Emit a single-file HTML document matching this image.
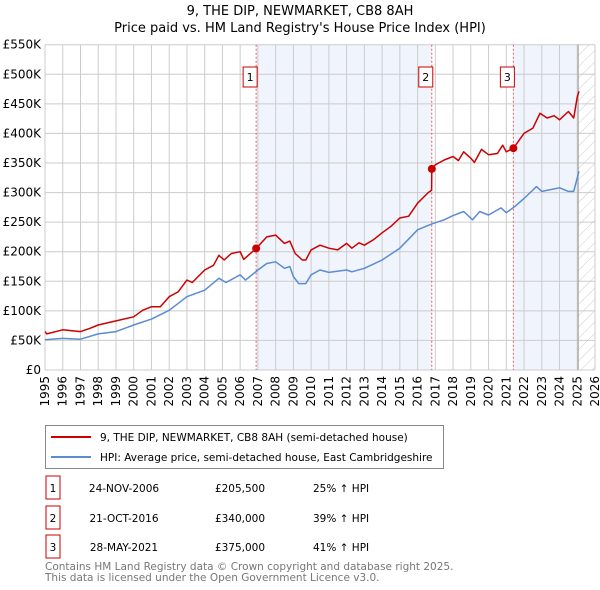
<!DOCTYPE html>
<html><head><meta charset="utf-8"><style>
body{margin:0;background:#fff;font-family:"Liberation Sans","DejaVu Sans",sans-serif}
#wrap{position:relative;width:600px;height:590px;overflow:hidden}
svg text{font-family:"DejaVu Sans","Liberation Sans",sans-serif}
</style></head><body>
<div id="wrap">
<svg id="chart" width="600" height="590"></svg>
</div>
<script>
const years=[1995,1996,1997,1998,1999,2000,2001,2002,2003,2004,2005,2006,2007,2008,2009,2010,2011,2012,2013,2014,2015,2016,2017,2018,2019,2020,2021,2022,2023,2024,2025,2026];
const yTicks=[0,50,100,150,200,250,300,350,400,450,500,550];
const hpiT=[1995,1996,1997,1998,1999,2000,2001,2002,2003,2004,2004.8,2005.2,2006,2006.3,2007,2007.5,2008,2008.5,2008.8,2009,2009.3,2009.7,2010,2010.5,2011,2012,2012.3,2013,2014,2015,2016,2016.8,2017.5,2018,2018.6,2019.1,2019.5,2020,2020.7,2021,2021.5,2022,2022.7,2023,2023.5,2024,2024.5,2024.8,2025.1];
const hpiV=[51,53.5,52,61,65,76,86,101,124,135,155,148,161,152,169,180,183,172,175,158,146,146,161,169,165,169,166,172,186,206,237,247,254,261,268,254,268,262,274,266,277,290,310,302,305,308,302,302,336];
const priceT=[1995,1995.1,1996,1997,1997.5,1998,1999,2000,2000.5,2001,2001.5,2002,2002.5,2003,2003.3,2004,2004.5,2004.8,2005.1,2005.5,2006,2006.2,2006.9,2007.5,2008,2008.5,2008.8,2009.1,2009.5,2009.7,2010,2010.5,2011,2011.5,2012,2012.3,2012.7,2013,2013.5,2014,2014.5,2015,2015.5,2016,2016.6,2016.79,2016.8,2017,2017.5,2018,2018.3,2018.6,2019,2019.2,2019.6,2020,2020.5,2020.8,2021,2021.4,2022,2022.5,2022.9,2023.3,2023.7,2024,2024.5,2024.8,2025,2025.1];
const priceV=[65,61,68,65,70,76,83,90,101,107,107,124,132,152,148,169,177,194,186,197,200,187,205.5,225,228,214,218,197,186,186,203,211,206,203,214,206,215,211,220,232,243,257,260,282,300,304,340,347,355,361,354,369,358,351,373,364,366,380,369,375,400,409,434,426,430,423,437,426,462,471];
const saleLabels=["1","2","3"];
const saleT=[2006.9,2016.8,2021.4];
const saleV=[205.5,340,375];
const saleDates=["24-NOV-2006","21-OCT-2016","28-MAY-2021"];
const salePrices=["£205,500","£340,000","£375,000"];
const saleHpi=["25% ↑ HPI","39% ↑ HPI","41% ↑ HPI"];

const L=45,R=595,T=44.7,B=370;
const X=t=>L+(t-1995)/(2026-1995)*(R-L);
const Y=v=>B-v/550*(B-T);
const NS="http://www.w3.org/2000/svg";
const svg=document.getElementById('chart');
function mk(tag,attrs,parent){const e=document.createElementNS(NS,tag);for(const k in attrs)e.setAttribute(k,attrs[k]);(parent||svg).appendChild(e);return e;}

let t1=mk('text',{x:300,y:15,'text-anchor':'middle','font-size':13,fill:'#000'});t1.textContent='9, THE DIP, NEWMARKET, CB8 8AH';


let t2=mk('text',{x:300,y:32,'text-anchor':'middle','font-size':13,fill:'#000'});t2.textContent="Price paid vs. HM Land Registry's House Price Index (HPI)";



const defs=mk('defs',{});
const pat=mk('pattern',{id:'hatch',width:8,height:8,patternUnits:'userSpaceOnUse',patternTransform:'rotate(45)'},defs);
mk('line',{x1:0,y1:0,x2:0,y2:8,stroke:'#ccc','stroke-width':1},pat);
let s1=mk('rect',{x:X(saleT[0]),y:T,width:X(saleT[1])-X(saleT[0]),height:B-T,fill:'#f0f4fd'});


let s2=mk('rect',{x:X(saleT[2]),y:T,width:X(2025.05)-X(saleT[2]),height:B-T,fill:'#f0f4fd'});


let hz=mk('rect',{x:X(2025.05),y:T,width:R-X(2025.05),height:B-T,fill:'url(#hatch)'});



years.forEach(y=>{
  let g=mk('line',{x1:X(y),x2:X(y),y1:T,y2:B,stroke:'#ccc','stroke-width':1});
  
  
  let tx=mk('text',{transform:`translate(${X(y)+4},${B+6}) rotate(-90)`,'text-anchor':'end','font-size':12,fill:'#000'});tx.textContent=y;
  
  
});
yTicks.forEach(v=>{
  let g=mk('line',{x1:L,x2:R,y1:Y(v),y2:Y(v),stroke:'#ccc','stroke-width':1});
  
  
  let tx=mk('text',{x:L-4,y:Y(v)+4,'text-anchor':'end','font-size':12,fill:'#000'});tx.textContent=v===0?'£0':'£'+v+'K';
  
  
});
let bl=mk('line',{x1:X(2025.05),x2:X(2025.05),y1:T,y2:B,stroke:'#999','stroke-width':1});



saleT.forEach((s,i)=>{
  let l=mk('line',{x1:X(s),x2:X(s),y1:T,y2:B,stroke:'#e06060','stroke-width':1,'stroke-dasharray':'2,2'});
  
  
  let r=mk('rect',{x:X(s)-13,y:67,width:14,height:20,fill:'#fff',stroke:'#c00'});
  
  
  let tx=mk('text',{x:X(s)-6,y:81,'text-anchor':'middle','font-size':11,fill:'#000'});tx.textContent=saleLabels[i];
  
  
});

function path(ts,vs,color,name){
  let d=ts.map((t,i)=>(i?'L':'M')+X(t).toFixed(1)+','+Y(vs[i]).toFixed(1)).join('');
  let p=mk('path',{d:d,fill:'none',stroke:color,'stroke-width':1.5,'stroke-linejoin':'round'});
  
  
}
path(hpiT,hpiV,'#5b8bd0','hpi-line');
path(priceT,priceV,'#cc0000','price-line');
saleT.forEach((s,i)=>{
  let c=mk('circle',{cx:X(s),cy:Y(saleV[i]),r:4,fill:'#cc0000'});
  
  
});

let lg=mk('rect',{x:45.5,y:425.5,width:398,height:43,fill:'#fff',stroke:'#888'});


mk('line',{x1:51,x2:91,y1:437,y2:437,stroke:'#cc0000','stroke-width':2});
mk('line',{x1:51,x2:91,y1:457,y2:457,stroke:'#5b8bd0','stroke-width':2});
let le1=mk('text',{x:100,y:441,'font-size':10.5,fill:'#000'});le1.textContent='9, THE DIP, NEWMARKET, CB8 8AH (semi-detached house)';


let le2=mk('text',{x:100,y:461,'font-size':10.5,fill:'#000'});le2.textContent='HPI: Average price, semi-detached house, East Cambridgeshire';



const rowY=[488,518,547];
saleLabels.forEach((s,i)=>{
  let y=rowY[i];
  let r=mk('rect',{x:46,y:y-12,width:14,height:23,fill:'#fff',stroke:'#c00'});
  
  
  const cells=[[53,s,'middle'],[124,saleDates[i],'middle'],[240,salePrices[i],'middle'],[313,saleHpi[i],'start']];
  cells.forEach(c=>{
    let tx=mk('text',{x:c[0],y:y+4,'text-anchor':c[2],'font-size':10.5,fill:'#000'});tx.textContent=c[1];
    
    
  });
});
let f1=mk('text',{x:45,y:570,'font-size':10.5,fill:'#777'});f1.textContent='Contains HM Land Registry data © Crown copyright and database right 2025.';


let f2=mk('text',{x:45,y:581,'font-size':10.5,fill:'#777'});f2.textContent='This data is licensed under the Open Government Licence v3.0.';


</script>
</body></html>
